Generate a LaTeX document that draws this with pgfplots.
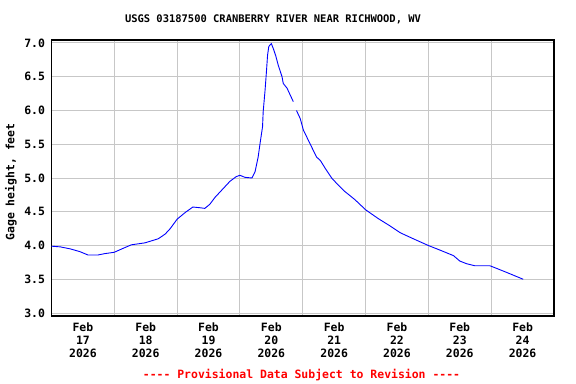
\documentclass[border=0pt]{standalone}
\usepackage{fontspec}
\setmonofont{DejaVu Sans Mono}
\usepackage{pgfplots}
\pgfplotsset{compat=1.18}
\pgfplotstableread{
d v
0.00 3.99
0.14 3.98
0.30 3.95
0.45 3.91
0.58 3.86
0.74 3.86
0.85 3.88
1.00 3.90
1.12 3.95
1.27 4.01
1.49 4.04
1.70 4.10
1.81 4.17
1.89 4.25
2.00 4.39
2.13 4.49
2.25 4.57
2.36 4.56
2.44 4.55
2.52 4.61
2.60 4.71
2.72 4.83
2.84 4.95
2.94 5.02
3.00 5.04
3.08 5.01
3.19 5.00
3.24 5.09
3.29 5.31
3.32 5.51
3.36 5.76
3.37 5.98
3.40 6.30
3.42 6.55
3.44 6.82
3.46 6.95
3.50 6.99
3.53 6.92
3.57 6.81
3.61 6.67
3.67 6.50
3.69 6.40
3.75 6.33
3.80 6.23
3.85 6.13
3.87 nan
3.90 6.00
3.96 5.88
4.01 5.71
4.12 5.50
4.22 5.31
4.28 5.26
4.36 5.14
4.46 5.00
4.54 4.92
4.67 4.80
4.83 4.68
5.00 4.53
5.20 4.40
5.39 4.29
5.55 4.19
5.76 4.10
6.00 4.00
6.19 3.93
6.40 3.85
6.50 3.77
6.61 3.73
6.74 3.70
6.98 3.70
7.09 3.66
7.25 3.60
7.38 3.55
7.51 3.50
}\gage
\begin{document}
\begin{tikzpicture}
\path[use as bounding box] (-51.5bp,-68bp) rectangle (524.5bp,316bp);
\begin{axis}[
  at={(0,0)}, anchor=south west,
  scale only axis, width=502.5bp, height=276bp,
  xmin=0, xmax=8, ymin=2.956, ymax=7.044,
  xtick={0.5,1.5,2.5,3.5,4.5,5.5,6.5,7.5},
  xticklabels={{Feb\\17\\2026},{Feb\\18\\2026},{Feb\\19\\2026},{Feb\\20\\2026},{Feb\\21\\2026},{Feb\\22\\2026},{Feb\\23\\2026},{Feb\\24\\2026}},
  minor xtick={1,2,3,4,5,6,7},
  xminorgrids, ymajorgrids,
  ytick={3,3.5,4,4.5,5,5.5,6,6.5,7},
  /pgf/number format/assume math mode=true,
  y tick label style={/pgf/number format/fixed, /pgf/number format/fixed zerofill, /pgf/number format/precision=1, xshift=-3bp},
  tick label style={font=\ttfamily\bfseries\fontsize{11.5}{13}\selectfont},
  xticklabel style={align=center, yshift=-3bp},
  major tick length=0pt, minor tick length=0pt,
  grid style={draw=black!22, line width=1bp},
  minor grid style={draw=black!22, line width=1bp},
  axis line style={line width=1.5bp, black},
  unbounded coords=jump,
]
\addplot[blue, line width=0.9bp] table[x=d, y=v] {\gage};
\end{axis}
\node[font=\ttfamily\bfseries\fontsize{11.5}{13}\selectfont, rotate=90] at (-40.5bp,134bp) {Gage height, feet};
\node[font=\ttfamily\bfseries\fontsize{10.5}{12}\selectfont] at (221.5bp,297bp) {USGS 03187500 CRANBERRY RIVER NEAR RICHWOOD, WV};
\node[font=\ttfamily\bfseries\fontsize{11.5}{13}\selectfont, text=red] at (250bp,-59bp) {---- Provisional Data Subject to Revision ----};
\end{tikzpicture}
\end{document}
